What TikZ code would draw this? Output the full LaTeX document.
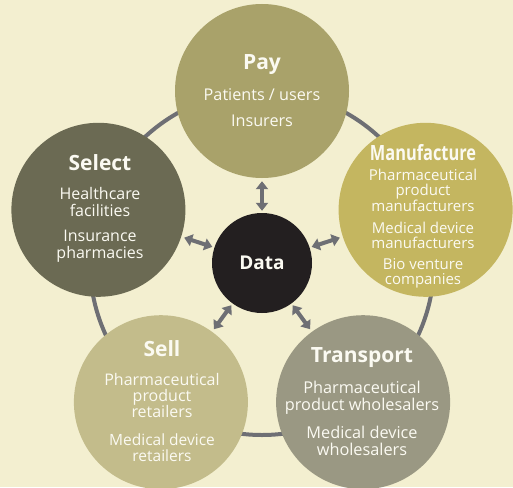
\documentclass[tikz,border=0pt]{standalone}
\usepackage{fontspec}
\setmainfont{Open Sans}
\usetikzlibrary{arrows.meta}

\definecolor{bg}{HTML}{F3EFD0}
\definecolor{paycol}{HTML}{A9A26A}
\definecolor{mancol}{HTML}{C4B660}
\definecolor{selcol}{HTML}{6B6A53}
\definecolor{sellcol}{HTML}{C3BC8B}
\definecolor{trancol}{HTML}{9A9883}
\definecolor{datacol}{HTML}{231F20}
\definecolor{linkcol}{HTML}{6E6F74}
\definecolor{txtcol}{HTML}{FBFAF2}

\newcommand\headfont{\fontsize{21}{24}\selectfont\bfseries}
\newcommand\bodysize[2]{\fontsize{#1}{#2}\selectfont}

\tikzset{
  stage/.style={circle, minimum size=174pt, inner sep=0pt, draw=none},
  hub/.style={circle, minimum size=100pt, inner sep=0pt, fill=datacol,
              text=txtcol, font=\headfont\fontsize{19}{22}\selectfont},
  ring/.style={draw=linkcol, line width=4pt},
  link/.style={draw=linkcol, line width=4pt,
               {Triangle[width=12pt,length=8pt]}-{Triangle[width=12pt,length=8pt]},
               shorten <=2pt, shorten >=3pt},
  head/.style={text=txtcol, inner sep=0pt, font=\headfont},
  body/.style={text=txtcol, inner sep=0pt, align=center},
}

\begin{document}
\begin{tikzpicture}[x=1pt,y=-1pt]
\useasboundingbox[fill=bg] (0,0) rectangle (513,487);

% ring behind the five stages
\coordinate (hubc) at (262,263);
\draw[ring] (hubc) circle[radius=172];

% the five stages
\node[stage, fill=paycol]  (pay)  at (262,91)    {};
\node[stage, fill=mancol]  (man)  at (425.6,209.8) {};
\node[stage, fill=selcol]  (sel)  at (98.4,209.8)  {};
\node[stage, fill=sellcol] (sell) at (160.9,402.2) {};
\node[stage, fill=trancol] (tran) at (363.1,402.2) {};

% central hub
\node[hub] (data) at (hubc) {Data};

% two-way links between the hub and each stage
\foreach \s in {pay,man,sel,sell,tran}
  \draw[link] (data) -- (\s);

% Pay
\node[head] (payh) at (262,65) {Pay};
\node[body, font=\bodysize{16.2}{17}] (payb1) at (262,95) {Patients / users};
\node[body, font=\bodysize{16.2}{17}] (payb2) at (262,121) {Insurers};

% Select
\node[head] (selh) at (100,163) {Select};
\node[body, font=\bodysize{16}{17.5}] (selb1) at (100,202) {Healthcare\\facilities};
\node[body, font=\bodysize{16}{17.5}] (selb2) at (100,246) {Insurance\\pharmacies};

% Manufacture
\node[head] (manh) at (423,153) {\scalebox{0.78}[1]{Manufacture}};
\node[body, font=\bodysize{15}{15}] (manb1) at (423,190) {Pharmaceutical\\product\\manufacturers};
\node[body, font=\bodysize{15}{15}] (manb2) at (423,235.5) {Medical device\\manufacturers};
\node[body, font=\bodysize{15}{15}] (manb3) at (423,273.5) {Bio venture\\companies};

% Sell
\node[head] (sellh) at (162,349) {Sell};
\node[body, font=\bodysize{16}{16}] (sellb1) at (162,395) {Pharmaceutical\\product\\retailers};
\node[body, font=\bodysize{15.5}{16}] (sellb2) at (162,448) {Medical device\\retailers};

% Transport
\node[head] (tranh) at (362,358) {Transport};
\node[body, font=\bodysize{16.3}{17}] (tranb1) at (362,397.5) {Pharmaceutical\\product wholesalers};
\node[body, font=\bodysize{16.3}{17}] (tranb2) at (362,440.5) {Medical device\\wholesalers};
\end{tikzpicture}
\end{document}
